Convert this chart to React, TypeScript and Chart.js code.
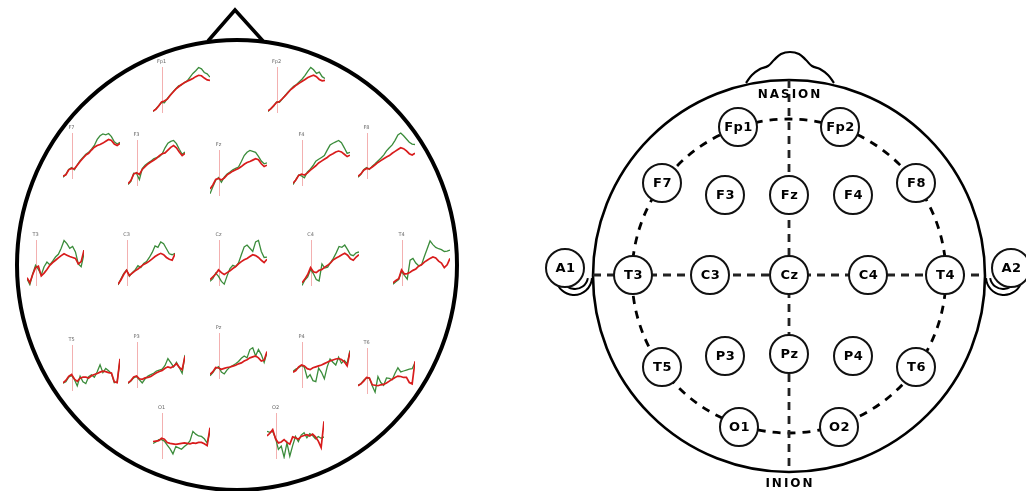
import React, { useEffect, useRef } from "react";
import { Chart, registerables } from "chart.js";
Chart.register(...registerables);

// ---------- mini ERP waveforms (left head) ----------
const timesMs = [-100, -70, -40, -10, 20, 50, 80, 110, 140, 170, 200, 230, 260, 290, 320, 350, 380, 410, 440, 470, 500];

const fp1Red = [0.4, 0.8, 1.5, 2.4, 2.6, 3.0, 3.8, 4.5, 5.2, 5.7, 6.2, 6.6, 6.9, 7.2, 7.5, 7.9, 8.2, 8.1, 7.6, 7.2, 7.1];
const fp1Green = [0.3, 0.9, 1.6, 2.3, 2.2, 3.1, 3.9, 4.6, 5.3, 5.9, 6.1, 6.6, 7.0, 7.8, 8.6, 9.2, 9.9, 9.6, 8.8, 8.5, 7.8];
const fp2Red = [0.5, 0.9, 1.6, 2.3, 2.5, 3.1, 3.7, 4.4, 5.1, 5.6, 6.1, 6.5, 6.9, 7.3, 7.7, 8.0, 8.2, 7.9, 7.3, 7.0, 7.1];
const fp2Green = [0.3, 1.0, 1.5, 2.4, 2.3, 3.0, 3.8, 4.5, 5.2, 5.8, 6.2, 6.8, 7.4, 8.2, 9.1, 9.9, 9.4, 8.6, 8.9, 7.9, 7.5];
const f7Red = [0.6, 0.9, 2.0, 2.3, 2.2, 3.0, 3.8, 4.5, 5.2, 5.6, 6.3, 6.9, 7.3, 7.5, 7.8, 8.2, 8.6, 8.4, 7.6, 7.3, 7.7];
const f7Green = [0.4, 1.0, 2.1, 2.5, 2.0, 3.1, 4.0, 4.7, 5.4, 5.8, 6.5, 7.3, 8.6, 9.4, 9.8, 9.6, 9.9, 9.2, 8.1, 7.6, 8.0];
const f3Red = [0.5, 1.2, 2.6, 2.9, 2.5, 3.6, 4.2, 4.8, 5.2, 5.6, 6.0, 6.6, 7.0, 7.2, 7.8, 8.4, 8.8, 8.3, 7.4, 6.6, 7.1];
const f3Green = [0.3, 1.0, 2.8, 2.7, 1.4, 3.8, 4.5, 5.0, 5.4, 5.9, 6.2, 6.4, 7.0, 8.3, 9.3, 9.7, 9.9, 9.2, 8.0, 6.9, 7.4];
const fzRed = [1.5, 2.4, 3.6, 3.8, 3.5, 3.9, 4.6, 5.0, 5.4, 5.7, 6.0, 6.4, 6.9, 7.3, 7.5, 7.8, 8.1, 7.9, 7.0, 6.4, 6.7];
const fzGreen = [0.5, 2.0, 3.4, 4.0, 3.0, 4.1, 4.8, 5.2, 5.7, 6.0, 6.3, 7.5, 8.8, 9.5, 9.9, 9.7, 9.5, 8.6, 7.6, 7.0, 7.2];
const f4Red = [0.6, 1.3, 2.3, 2.6, 2.4, 2.8, 3.4, 3.9, 4.4, 5.0, 5.4, 5.8, 6.2, 6.7, 7.0, 7.4, 7.6, 7.4, 6.9, 6.4, 6.7];
const f4Green = [0.3, 1.4, 2.4, 2.2, 1.8, 3.0, 3.6, 4.4, 5.4, 5.8, 6.2, 6.6, 7.8, 8.9, 9.3, 9.6, 9.9, 9.4, 8.3, 7.1, 7.3];
const f8Red = [0.6, 1.1, 1.9, 2.3, 2.2, 2.6, 3.1, 3.6, 4.0, 4.4, 4.8, 5.1, 5.6, 6.0, 6.4, 6.8, 6.6, 6.1, 5.5, 5.2, 5.6];
const f8Green = [0.4, 1.0, 2.0, 2.5, 2.1, 2.8, 3.3, 3.9, 4.5, 5.2, 6.1, 6.8, 7.4, 8.4, 9.6, 10.0, 9.4, 8.7, 8.0, 7.6, 7.5];
const t3Red = [1.8, 0.7, 2.5, 4.0, 4.3, 2.2, 2.8, 3.6, 4.5, 5.1, 5.6, 6.1, 6.6, 7.0, 6.7, 6.4, 6.2, 6.0, 4.8, 5.3, 7.8];
const t3Green = [1.6, 0.3, 2.6, 4.5, 3.6, 2.4, 4.2, 5.2, 4.6, 5.4, 6.3, 6.9, 8.2, 9.9, 9.2, 8.2, 8.6, 7.4, 4.8, 4.2, 7.0];
const c3Red = [0.4, 1.3, 2.5, 3.4, 2.3, 2.8, 3.3, 3.7, 4.2, 4.7, 5.0, 5.4, 5.9, 6.4, 6.8, 7.1, 6.8, 6.2, 5.8, 5.6, 7.0];
const c3Green = [0.2, 1.5, 2.7, 3.5, 2.1, 2.9, 3.5, 4.4, 4.0, 4.9, 5.3, 6.2, 7.3, 8.7, 8.4, 9.6, 9.2, 8.1, 7.0, 6.8, 7.1];
const czRed = [1.4, 2.0, 2.6, 3.5, 2.9, 2.5, 2.9, 3.3, 3.8, 4.2, 4.8, 5.3, 5.7, 6.0, 6.4, 6.8, 6.6, 6.2, 5.6, 5.1, 5.8];
const czGreen = [1.0, 1.6, 2.8, 2.1, 1.0, 0.4, 2.2, 3.8, 4.5, 4.2, 5.0, 6.8, 8.5, 8.9, 8.2, 7.5, 9.6, 9.9, 7.5, 6.2, 6.3];
const c4Red = [0.7, 1.5, 2.5, 4.0, 3.1, 2.9, 3.4, 3.6, 4.1, 4.5, 5.0, 5.7, 6.1, 6.4, 6.8, 7.1, 6.7, 5.9, 5.6, 6.3, 6.8];
const c4Green = [0.1, 1.3, 2.0, 3.6, 2.7, 1.4, 1.1, 4.8, 3.9, 4.1, 5.1, 6.0, 7.2, 8.6, 8.4, 8.9, 7.9, 6.8, 6.6, 7.2, 7.4];
const t4Red = [0.7, 1.2, 1.6, 3.5, 2.6, 2.7, 3.0, 3.4, 3.7, 4.3, 4.6, 5.2, 5.6, 6.0, 6.3, 6.1, 5.4, 5.0, 4.0, 4.6, 6.0];
const t4Green = [0.4, 0.9, 1.4, 3.2, 2.3, 1.5, 5.6, 6.0, 5.0, 4.4, 4.6, 6.4, 8.1, 9.8, 9.0, 8.4, 8.1, 7.9, 7.5, 7.6, 7.8];
const t5Red = [1.8, 2.3, 3.2, 3.6, 2.6, 2.1, 2.8, 3.0, 3.0, 2.8, 3.3, 3.6, 3.8, 4.1, 4.3, 4.2, 4.0, 3.9, 2.0, 1.8, 7.0];
const t5Green = [1.7, 2.0, 3.0, 3.4, 2.5, 1.1, 3.2, 2.0, 1.6, 3.1, 3.5, 3.0, 4.2, 5.7, 4.0, 4.9, 4.4, 3.8, 1.8, 2.0, 6.8];
const p3Red = [1.1, 1.6, 2.4, 2.6, 2.0, 1.9, 2.2, 2.3, 2.5, 2.9, 3.3, 3.6, 3.8, 4.3, 4.6, 4.4, 4.7, 5.3, 4.5, 4.0, 6.9];
const p3Green = [1.0, 1.5, 2.2, 2.5, 1.8, 1.1, 2.0, 2.6, 2.9, 3.2, 3.7, 3.9, 4.1, 4.9, 6.4, 5.5, 4.6, 5.6, 4.4, 3.2, 7.2];
const pzRed = [1.0, 1.6, 2.5, 2.4, 2.1, 2.3, 2.5, 2.6, 2.8, 3.0, 3.3, 3.5, 3.9, 4.2, 4.6, 4.8, 5.0, 4.6, 3.9, 4.1, 6.0];
const pzGreen = [0.7, 1.4, 2.3, 2.7, 1.5, 1.1, 2.0, 2.6, 2.9, 3.3, 3.8, 4.5, 5.0, 4.6, 6.4, 6.8, 5.0, 6.4, 5.3, 3.6, 5.8];
const p4Red = [3.4, 3.8, 4.6, 5.0, 4.8, 4.2, 4.0, 4.4, 4.6, 4.8, 5.0, 5.3, 5.6, 5.9, 6.1, 6.3, 6.4, 6.2, 5.7, 4.8, 7.9];
const p4Green = [3.6, 4.1, 4.4, 4.9, 4.5, 2.2, 2.9, 1.6, 1.4, 4.3, 3.4, 2.0, 4.6, 6.3, 5.6, 5.0, 6.7, 5.4, 6.0, 5.3, 8.2];
const t6Red = [1.8, 2.2, 2.8, 3.6, 3.5, 2.0, 1.9, 1.8, 2.0, 2.1, 2.4, 2.8, 3.2, 3.6, 3.9, 3.8, 3.6, 3.6, 2.5, 2.2, 7.1];
const t6Green = [1.9, 2.2, 3.0, 3.5, 3.4, 1.8, 0.4, 3.8, 2.5, 1.9, 3.5, 3.4, 3.1, 4.5, 5.7, 4.8, 5.0, 5.2, 5.4, 5.5, 6.8];
const o1Red = [3.8, 3.9, 4.0, 4.5, 4.3, 3.6, 3.4, 3.3, 3.2, 3.3, 3.4, 3.5, 3.4, 3.3, 3.5, 3.4, 3.6, 3.6, 3.3, 2.9, 6.8];
const o1Green = [3.4, 3.7, 4.2, 4.2, 3.9, 3.0, 2.2, 1.1, 2.7, 2.4, 2.1, 2.7, 3.2, 4.0, 6.0, 5.4, 5.0, 4.9, 4.4, 3.5, 6.0];
const o2Red = [5.0, 5.6, 6.4, 4.4, 3.5, 3.7, 4.2, 3.6, 3.2, 4.8, 4.6, 4.3, 4.9, 5.1, 5.3, 5.0, 5.4, 4.8, 3.9, 2.5, 8.2];
const o2Green = [6.0, 5.8, 6.0, 4.5, 2.1, 2.8, 0.4, 3.5, 0.6, 2.9, 4.9, 3.8, 5.2, 5.7, 4.6, 5.5, 5.1, 4.4, 4.9, 4.5, 4.8];

const miniChannels = [
  { name: "Fp1", red: fp1Red, green: fp1Green },
  { name: "Fp2", red: fp2Red, green: fp2Green },
  { name: "F7", red: f7Red, green: f7Green },
  { name: "F3", red: f3Red, green: f3Green },
  { name: "Fz", red: fzRed, green: fzGreen },
  { name: "F4", red: f4Red, green: f4Green },
  { name: "F8", red: f8Red, green: f8Green },
  { name: "T3", red: t3Red, green: t3Green },
  { name: "C3", red: c3Red, green: c3Green },
  { name: "Cz", red: czRed, green: czGreen },
  { name: "C4", red: c4Red, green: c4Green },
  { name: "T4", red: t4Red, green: t4Green },
  { name: "T5", red: t5Red, green: t5Green },
  { name: "P3", red: p3Red, green: p3Green },
  { name: "Pz", red: pzRed, green: pzGreen },
  { name: "P4", red: p4Red, green: p4Green },
  { name: "T6", red: t6Red, green: t6Green },
  { name: "O1", red: o1Red, green: o1Green },
  { name: "O2", red: o2Red, green: o2Green },
];

// layout of the mini plots (pixel boxes, top = top of onset marker)
const miniLayout: Record<string, [number, number]> = {
  Fp1: [153, 67], Fp2: [268, 67],
  F7: [63, 133], F3: [128, 140], Fz: [210, 150], F4: [293, 140], F8: [358, 133],
  T3: [27, 240], C3: [118, 240], Cz: [210, 240], C4: [302, 240], T4: [393, 240],
  T5: [63, 345], P3: [128, 342], Pz: [210, 333], P4: [293, 342], T6: [358, 348],
  O1: [153, 413], O2: [267, 413],
};
const MINI_W = 57;
const MINI_H = 46;
const MINI_PAD_TOP = 10;
const yMin = 0;
const yMax = 10;
const onsetMs = 0;

// ---------- 10-20 electrode map (right head), in page coordinates ----------
const electrodeNames = ["Fp1", "Fp2", "F7", "F3", "Fz", "F4", "F8", "A1", "T3", "C3", "Cz", "C4", "T4", "A2", "T5", "P3", "Pz", "P4", "T6", "O1", "O2"];
const electrodeX = [738, 840, 662, 725, 789, 853, 916, 565, 633, 710, 789, 868, 945, 1011, 662, 725, 789, 853, 916, 739, 839];
const electrodeY = [127, 127, 183, 195, 195, 195, 183, 268, 275, 275, 275, 275, 275, 268, 367, 356, 354, 356, 367, 427, 427];

const landmarkNames = ["NASION", "INION"];
const landmarkX = [789, 789];
const landmarkY = [95, 484];

const midlineX = [789, 789];
const midlineY = [80, 472];
const coronalX = [593, 985];
const coronalY = [275, 275];

const leftNoseX = [208, 235, 263];
const leftNoseY = [41, 10, 41];
const rightNoseX = [746, 752, 760, 768, 774, 781, 790, 799, 806, 812, 820, 828, 834];
const rightNoseY = [83, 75, 69, 66, 60, 54, 52, 54, 60, 66, 69, 75, 83];

// outlines: centre, radii, angular range (in page coordinates)
const outlines = [
  { cx: 237, cy: 265, rx: 220, ry: 225, a0: 0, a1: 2, width: 4, dash: [] as number[] },
  { cx: 789, cy: 276, rx: 196, ry: 196, a0: 0, a1: 2, width: 2.6, dash: [] as number[] },
  { cx: 789, cy: 276, rx: 157, ry: 157, a0: 0, a1: 2, width: 2.8, dash: [8, 7] },
  { cx: 574, cy: 277, rx: 18, ry: 18, a0: 0.02, a1: 0.95, width: 2, dash: [] as number[] },
  { cx: 575, cy: 276, rx: 13, ry: 13, a0: 0.05, a1: 0.8, width: 2, dash: [] as number[] },
  { cx: 1004, cy: 277, rx: 18, ry: 18, a0: 0.05, a1: 0.98, width: 2, dash: [] as number[] },
  { cx: 1003, cy: 276, rx: 13, ry: 13, a0: 0.2, a1: 0.95, width: 2, dash: [] as number[] },
];

const PAGE_W = 1026;
const PAGE_H = 491;

const outlinePlugin = {
  id: "headOutlines",
  beforeDatasetsDraw(chart: any) {
    const { ctx, scales } = chart;
    const sx = scales.x;
    const sy = scales.y;
    ctx.save();
    ctx.strokeStyle = "#000";
    for (const o of outlines) {
      const cx = sx.getPixelForValue(o.cx);
      const cy = sy.getPixelForValue(o.cy);
      const rx = Math.abs(sx.getPixelForValue(o.cx + o.rx) - cx);
      const ry = Math.abs(sy.getPixelForValue(o.cy + o.ry) - cy);
      ctx.beginPath();
      ctx.setLineDash(o.dash);
      ctx.lineWidth = o.width;
      ctx.ellipse(cx, cy, rx, ry, 0, o.a0 * Math.PI, o.a1 * Math.PI);
      ctx.stroke();
    }
    ctx.restore();
  },
  afterDatasetsDraw(chart: any) {
    const { ctx, scales } = chart;
    const sx = scales.x;
    const sy = scales.y;
    ctx.save();
    ctx.fillStyle = "#000";
    ctx.textAlign = "center";
    ctx.textBaseline = "middle";
    ctx.font = "bold 13px 'DejaVu Sans'";
    try { (ctx as any).letterSpacing = "0.5px"; } catch (e) {}
    electrodeNames.forEach((n, i) => {
      ctx.fillText(n, sx.getPixelForValue(electrodeX[i]) + 0.5, sy.getPixelForValue(electrodeY[i]) + 1);
    });
    ctx.font = "bold 12px 'DejaVu Sans'";
    try { (ctx as any).letterSpacing = "2px"; } catch (e) {}
    landmarkNames.forEach((n, i) => {
      ctx.fillText(n, sx.getPixelForValue(landmarkX[i]) + 1, sy.getPixelForValue(landmarkY[i]));
    });
    ctx.restore();
  },
};

const miniLabelPlugin = {
  id: "miniLabel",
  afterDatasetsDraw(chart: any, _args: any, opts: any) {
    const { ctx, scales, chartArea } = chart;
    ctx.save();
    ctx.fillStyle = "#666";
    ctx.font = "5px 'DejaVu Sans'";
    ctx.textAlign = "center";
    ctx.textBaseline = "middle";
    ctx.fillText(opts.text || "", scales.x.getPixelForValue(onsetMs) - 1, chartArea.top - 5);
    ctx.restore();
  },
};

function HeadMap() {
  const ref = useRef<HTMLCanvasElement>(null);
  useEffect(() => {
    if (!ref.current) return;
    const pts = (xs: number[], ys: number[]) => xs.map((x, i) => ({ x, y: ys[i] }));
    const chart = new Chart(ref.current, {
      type: "scatter",
      data: {
        datasets: [
          {
            label: "electrodes",
            data: pts(electrodeX, electrodeY),
            pointRadius: 19,
            pointHoverRadius: 19,
            pointBorderWidth: 2,
            pointBackgroundColor: "#fff",
            pointBorderColor: "#111",
            showLine: false,
            clip: false,
            order: 0,
          } as any,
          {
            label: "midline",
            data: pts(midlineX, midlineY),
            showLine: true,
            borderColor: "#222",
            borderWidth: 2.8,
            borderDash: [8, 6],
            pointRadius: 0,
            order: 2,
          },
          {
            label: "coronal",
            data: pts(coronalX, coronalY),
            showLine: true,
            borderColor: "#222",
            borderWidth: 2.8,
            borderDash: [8, 6],
            pointRadius: 0,
            order: 2,
          },
          {
            label: "nose left",
            data: pts(leftNoseX, leftNoseY),
            showLine: true,
            borderColor: "#000",
            borderWidth: 3.5,
            pointRadius: 0,
            order: 1,
          },
          {
            label: "nose right",
            data: pts(rightNoseX, rightNoseY),
            showLine: true,
            borderColor: "#000",
            borderWidth: 2.2,
            tension: 0.4,
            pointRadius: 0,
            order: 1,
          },
        ],
      },
      options: {
        animation: false,
        responsive: false,
        maintainAspectRatio: false,
        layout: { padding: 0, autoPadding: false } as any,
        plugins: { legend: { display: false }, tooltip: { enabled: false } },
        events: [],
        scales: {
          x: { type: "linear", min: 0, max: PAGE_W, display: false },
          y: { type: "linear", min: 0, max: PAGE_H, reverse: true, display: false },
        },
      },
      plugins: [outlinePlugin],
    });
    return () => chart.destroy();
  }, []);
  return <canvas ref={ref} width={PAGE_W} height={PAGE_H} style={{ position: "absolute", left: 0, top: 0 }} />;
}

function MiniPlot({ name, red, green }: { name: string; red: number[]; green: number[] }) {
  const ref = useRef<HTMLCanvasElement>(null);
  const [left, top] = miniLayout[name];
  useEffect(() => {
    if (!ref.current) return;
    const chart = new Chart(ref.current, {
      type: "scatter",
      data: {
        datasets: [
          {
            label: "red",
            data: timesMs.map((t, i) => ({ x: t, y: red[i] })),
            showLine: true,
            borderColor: "#d81c1c",
            borderWidth: 1.7,
            pointRadius: 0,
            clip: false,
            order: 1,
          } as any,
          {
            label: "green",
            data: timesMs.map((t, i) => ({ x: t, y: green[i] })),
            showLine: true,
            borderColor: "#3b8c3b",
            borderWidth: 1.3,
            pointRadius: 0,
            clip: false,
            order: 2,
          },
          {
            label: "onset",
            data: [{ x: onsetMs, y: yMin }, { x: onsetMs, y: yMax }],
            showLine: true,
            borderColor: "#f3b0b0",
            borderWidth: 1,
            pointRadius: 0,
            order: 3,
          },
        ],
      },
      options: {
        animation: false,
        responsive: false,
        maintainAspectRatio: false,
        layout: { padding: { top: MINI_PAD_TOP, left: 0, right: 0, bottom: 0 }, autoPadding: false } as any,
        events: [],
        plugins: { legend: { display: false }, tooltip: { enabled: false }, miniLabel: { text: name } } as any,
        scales: {
          x: { type: "linear", min: timesMs[0], max: timesMs[timesMs.length - 1], display: false },
          y: { type: "linear", min: yMin, max: yMax, display: false },
        },
      },
      plugins: [miniLabelPlugin],
    });
    return () => chart.destroy();
  }, [name, red, green]);
  return (
    <canvas
      ref={ref}
      width={MINI_W}
      height={MINI_H + MINI_PAD_TOP}
      style={{ position: "absolute", left, top: top - MINI_PAD_TOP }}
    />
  );
}

export default function App() {
  return (
    <div
      style={{
        position: "fixed",
        left: 0,
        top: 0,
        width: PAGE_W,
        height: PAGE_H,
        background: "#fff",
        overflow: "hidden",
      }}
    >
      <HeadMap />
      {miniChannels.map((c) => (
        <MiniPlot key={c.name} name={c.name} red={c.red} green={c.green} />
      ))}
    </div>
  );
}
